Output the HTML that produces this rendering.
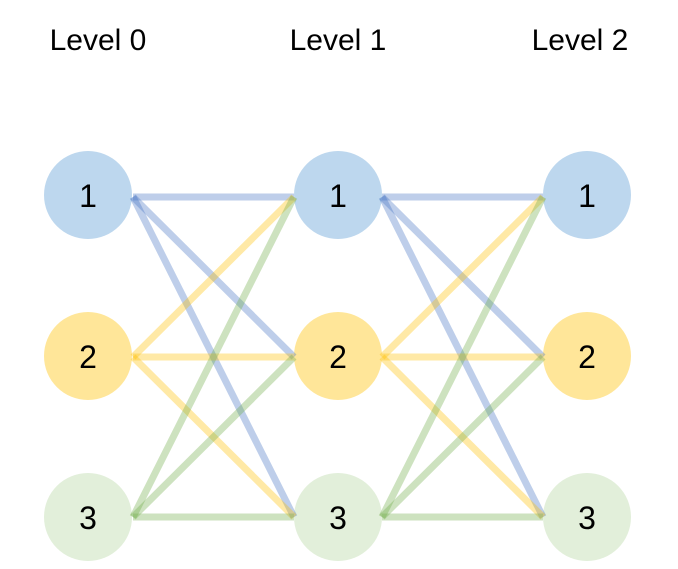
<!DOCTYPE html>
<html><head><style>html,body{margin:0;padding:0;background:#fff}</style></head><body>
<svg width="678" height="564" viewBox="0 0 678 564" xmlns="http://www.w3.org/2000/svg" font-family="Liberation Sans, DejaVu Sans, sans-serif">
<g font-size="30" fill="#000" text-anchor="middle">
<text x="98" y="50">Level 0</text>
<text x="338" y="50">Level 1</text>
<text x="580" y="50">Level 2</text>
</g>
<g fill="#bdd7ee"><circle cx="88" cy="195" r="44"/><circle cx="338" cy="195" r="44"/><circle cx="587" cy="195" r="44"/></g>
<g fill="#ffe699"><circle cx="88" cy="356" r="44"/><circle cx="338" cy="356" r="44"/><circle cx="587" cy="356" r="44"/></g>
<g fill="#e2efda"><circle cx="88" cy="517" r="44"/><circle cx="338" cy="517" r="44"/><circle cx="587" cy="517" r="44"/></g>
<g stroke-width="7" stroke-opacity="0.35" fill="none">
<g stroke="#4472c4">
<line x1="133" y1="197" x2="294" y2="197"/><line x1="133" y1="197" x2="294" y2="357"/><line x1="133" y1="197" x2="294" y2="517"/>
<line x1="382" y1="197" x2="543" y2="197"/><line x1="382" y1="197" x2="543" y2="357"/><line x1="382" y1="197" x2="543" y2="517"/>
</g>
<g stroke="#ffc000">
<line x1="133" y1="357" x2="294" y2="197"/><line x1="133" y1="357" x2="294" y2="357"/><line x1="133" y1="357" x2="294" y2="517"/>
<line x1="382" y1="357" x2="543" y2="197"/><line x1="382" y1="357" x2="543" y2="357"/><line x1="382" y1="357" x2="543" y2="517"/>
</g>
<g stroke="#70ad47">
<line x1="133" y1="517" x2="294" y2="197"/><line x1="133" y1="517" x2="294" y2="357"/><line x1="133" y1="517" x2="294" y2="517"/>
<line x1="382" y1="517" x2="543" y2="197"/><line x1="382" y1="517" x2="543" y2="357"/><line x1="382" y1="517" x2="543" y2="517"/>
</g>
</g>
<g font-size="32" fill="#000" text-anchor="middle">
<text x="88" y="207">1</text><text x="338" y="207">1</text><text x="587" y="207">1</text>
<text x="88" y="368">2</text><text x="338" y="368">2</text><text x="587" y="368">2</text>
<text x="88" y="529">3</text><text x="338" y="529">3</text><text x="587" y="529">3</text>
</g>
</svg>
</body></html>
